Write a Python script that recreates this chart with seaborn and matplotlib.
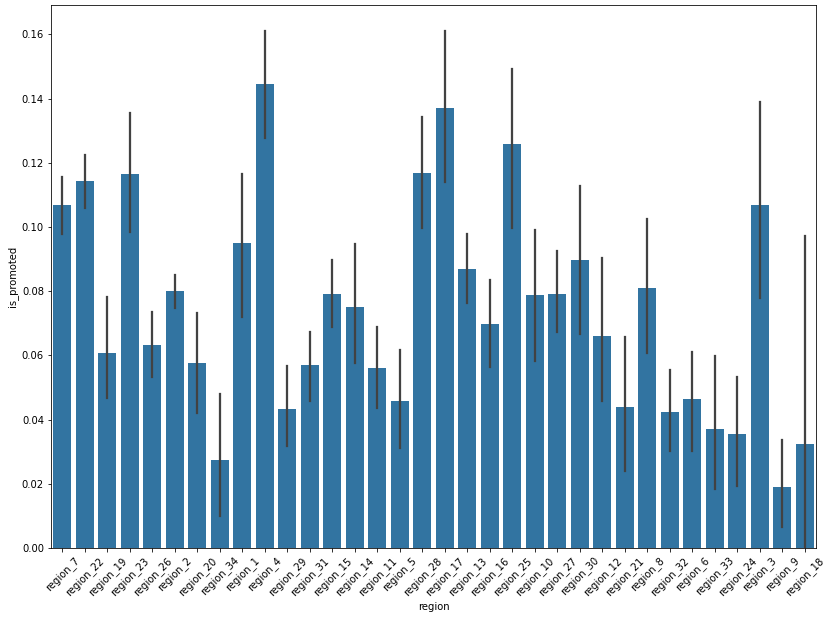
import matplotlib
matplotlib.use("Agg")
import matplotlib.pyplot as plt
import numpy as np
import pandas as pd
import seaborn as sns

# regions in plotted order
regions = ['region_7', 'region_22', 'region_19', 'region_23', 'region_26', 'region_2',
           'region_20', 'region_34', 'region_1', 'region_4', 'region_29', 'region_31',
           'region_15', 'region_14', 'region_11', 'region_5', 'region_28', 'region_17',
           'region_13', 'region_16', 'region_25', 'region_10', 'region_27', 'region_30',
           'region_12', 'region_21', 'region_8', 'region_32', 'region_6', 'region_33',
           'region_24', 'region_3', 'region_9', 'region_18']

# mean promotion rate per region (bar heights)
promoted = [0.1067, 0.1142, 0.0606, 0.1165, 0.0632, 0.0800, 0.0577, 0.0274, 0.0950, 0.1444,
            0.0433, 0.0569, 0.0790, 0.0751, 0.0562, 0.0457, 0.1168, 0.1370, 0.0869, 0.0697,
            0.1258, 0.0788, 0.0791, 0.0898, 0.0660, 0.0439, 0.0811, 0.0424, 0.0464, 0.0371,
            0.0354, 0.1069, 0.0191, 0.0323]

# confidence interval bounds
ci_low = [0.0977, 0.1060, 0.0466, 0.0985, 0.0533, 0.0748, 0.0420, 0.0100, 0.0719, 0.1276,
          0.0319, 0.0458, 0.0687, 0.0576, 0.0437, 0.0310, 0.0997, 0.1141, 0.0763, 0.0563,
          0.0998, 0.0583, 0.0674, 0.0667, 0.0458, 0.0241, 0.0607, 0.0303, 0.0302, 0.0184,
          0.0194, 0.0778, 0.0066, 0.0000]
ci_high = [0.1157, 0.1223, 0.0781, 0.1356, 0.0734, 0.0851, 0.0731, 0.0481, 0.1165, 0.1611,
           0.0567, 0.0674, 0.0896, 0.0947, 0.0687, 0.0616, 0.1342, 0.1611, 0.0977, 0.0835,
           0.1492, 0.0990, 0.0925, 0.1128, 0.0903, 0.0657, 0.1025, 0.0553, 0.0610, 0.0597,
           0.0534, 0.1389, 0.0335, 0.0971]

# long form: median gives the bar, min/max gives the interval
df = pd.DataFrame({
    'region': regions * 3,
    'is_promoted': ci_low + promoted + ci_high,
})

plt.figure(figsize=(824 / 72, 618 / 72), dpi=72)
ax = sns.barplot(x='region', y='is_promoted', data=df, order=regions,
                 estimator='median', errorbar=('pi', 100))
plt.xticks(rotation=45)
plt.subplots_adjust(left=51 / 824, right=816 / 824, top=1 - 5 / 618, bottom=1 - 548 / 618)
plt.savefig('out.png', dpi=72)
